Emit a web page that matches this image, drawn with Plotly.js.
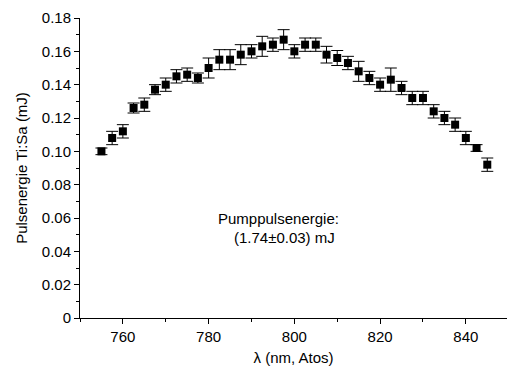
<!DOCTYPE html>
<html>
<head>
<meta charset="utf-8">
<script src="https://cdn.plot.ly/plotly-3.0.1.min.js"></script>
<style>html,body{margin:0;padding:0;background:#fff;overflow:hidden}#chart{width:507px;height:372px}</style>
</head>
<body>
<div id="chart"></div>
<script>
// wavelength (nm)
const wavelength = [755,757.5,760,762.5,765,767.5,770,772.5,775,777.5,780,782.5,785,787.5,790,792.5,795,797.5,800,802.5,805,807.5,810,812.5,815,817.5,820,822.5,825,827.5,830,832.5,835,837.5,840,842.5,845];
// pulse energy Ti:Sa (mJ)
const energy = [0.100,0.108,0.112,0.126,0.128,0.137,0.140,0.145,0.146,0.144,0.150,0.155,0.155,0.158,0.160,0.163,0.164,0.167,0.160,0.164,0.164,0.158,0.156,0.153,0.148,0.144,0.140,0.143,0.138,0.132,0.132,0.124,0.120,0.116,0.108,0.102,0.092];
// error (mJ)
const energyErr = [0.002,0.004,0.004,0.003,0.004,0.003,0.004,0.004,0.004,0.003,0.006,0.006,0.006,0.006,0.004,0.006,0.004,0.006,0.004,0.004,0.004,0.005,0.0045,0.004,0.006,0.004,0.004,0.007,0.004,0.004,0.004,0.004,0.004,0.004,0.004,0.002,0.004];
const yTickVals = [0,0.02,0.04,0.06,0.08,0.10,0.12,0.14,0.16,0.18];
const yTickText = ["0","0.02","0.04","0.06","0.08","0.10","0.12","0.14","0.16","0.18"];
const xTickVals = [760,780,800,820,840];

const FONT = 'Arial, "Liberation Sans", sans-serif';
const trace = {
  x: wavelength, y: energy, type: 'scatter', mode: 'markers',
  marker: {symbol: 'square', size: 8, color: '#000'},
  error_y: {type: 'data', array: energyErr, visible: true, color: '#000', thickness: 1, width: 6},
  hoverinfo: 'skip'
};
const layout = {
  width: 507, height: 372,
  margin: {l: 80, r: 0, t: 18, b: 54},
  paper_bgcolor: '#fff', plot_bgcolor: '#fff',
  showlegend: false,
  font: {family: FONT, size: 15, color: '#000'},
  xaxis: {
    range: [750, 849.6], showgrid: false, zeroline: false,
    showline: true, linecolor: '#000', linewidth: 1,
    ticks: 'outside', ticklen: 5, tickcolor: '#000',
    tickvals: xTickVals,
    minor: {dtick: 10, tick0: 750, ticks: 'outside', ticklen: 3, tickcolor: '#000', showgrid: false},
    tickfont: {size: 15},
    title: {text: 'λ (nm, Atos)', font: {size: 15}, standoff: 8}
  },
  yaxis: {
    range: [0, 0.18], showgrid: false, zeroline: false,
    showline: true, linecolor: '#000', linewidth: 1,
    ticks: 'outside', ticklen: 5, tickcolor: '#000',
    tickvals: yTickVals, ticktext: yTickText,
    minor: {dtick: 0.01, tick0: 0, ticks: 'outside', ticklen: 3, tickcolor: '#000', showgrid: false},
    tickfont: {size: 15},
    title: {text: 'Pulsenergie Ti:Sa (mJ)', font: {size: 15}, standoff: 10}
  },
  annotations: [
    {xref: 'paper', yref: 'paper', x: 0.466, y: 0.33, text: 'Pumppulsenergie:', showarrow: false, font: {size: 15}, xanchor: 'center', yanchor: 'middle'},
    {xref: 'paper', yref: 'paper', x: 0.479, y: 0.267, text: '(1.74±0.03) mJ', showarrow: false, font: {size: 15}, xanchor: 'center', yanchor: 'middle'}
  ]
};
Plotly.newPlot('chart', [trace], layout, {displayModeBar: false, staticPlot: true});
</script>
</body>
</html>
